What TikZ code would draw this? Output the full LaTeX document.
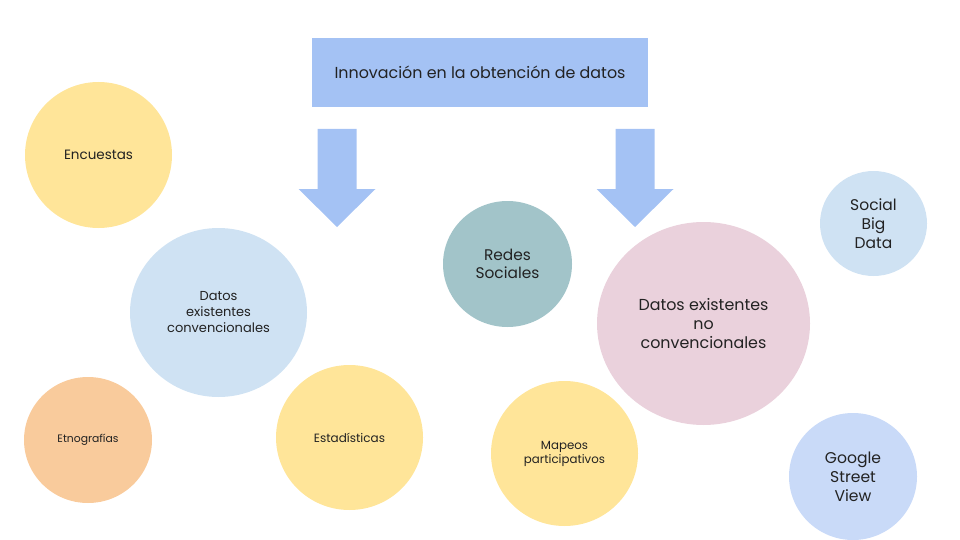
\documentclass[tikz,border=0pt]{standalone}
\usepackage{fontspec}
\setmainfont{Poppins}
\usetikzlibrary{shapes.geometric}
\definecolor{boxblue}{HTML}{A4C2F4}
\definecolor{sunyellow}{HTML}{FFE599}
\definecolor{paleblue}{HTML}{CFE2F3}
\definecolor{peach}{HTML}{F9CB9C}
\definecolor{sage}{HTML}{A2C4C9}
\definecolor{rose}{HTML}{EAD1DC}
\definecolor{cornflower}{HTML}{C9DAF8}
\definecolor{ink}{HTML}{222222}
\begin{document}
\begin{tikzpicture}[x=1pt,y=-1pt,
  bubble/.style={ellipse,inner sep=0pt,align=center,text=ink},
  downarrow/.style={fill=boxblue}]
\useasboundingbox (0,0) rectangle (960,540);

% heading box
\node[fill=boxblue,minimum width=336pt,minimum height=69pt,inner sep=0pt,
  text=ink,font=\fontsize{15.9}{18}\selectfont] (title) at (480,72.5)
  {Innovación en la obtención de datos};

% two block arrows under the heading
\foreach \cx/\nm in {337/left,635/right}{
  \fill[downarrow] (\cx-19.5,129) -- (\cx+19.5,129) -- (\cx+19.5,189)
    -- (\cx+38.5,189) -- (\cx,227) -- (\cx-38.5,189) -- (\cx-19.5,189) -- cycle;
}

% bubbles
\node[bubble,fill=sunyellow,minimum width=147pt,minimum height=146pt,
  font=\fontsize{13.5}{16}\selectfont] (enc) at (98.5,155) {Encuestas};
\node[bubble,fill=paleblue,minimum width=177pt,minimum height=169pt,
  font=\fontsize{13}{16}\selectfont] (conv) at (218.5,312.5)
  {Datos\\existentes\\convencionales};
\node[bubble,fill=peach,minimum width=128pt,minimum height=126pt,
  font=\fontsize{10.8}{13}\selectfont] (etno) at (88,440) {Etnografías};
\node[bubble,fill=sunyellow,minimum width=147pt,minimum height=145pt,
  font=\fontsize{12}{14}\selectfont] (est) at (349.5,437.5) {Estadísticas};
\node[bubble,fill=sage,minimum width=129pt,minimum height=126pt,
  font=\fontsize{15.4}{18}\selectfont] (redes) at (507.5,264) {Redes\\Sociales};
\node[bubble,fill=rose,minimum width=213pt,minimum height=203pt,
  font=\fontsize{15.9}{19}\selectfont] (noconv) at (703.5,323.5)
  {Datos existentes\\no\\convencionales};
\node[bubble,fill=sunyellow,minimum width=147pt,minimum height=145pt,
  font=\fontsize{11.8}{14}\selectfont] (mapeos) at (564.5,453.5)
  {Mapeos\\participativos};
\node[bubble,fill=paleblue,minimum width=107pt,minimum height=105pt,
  font=\fontsize{15.5}{19}\selectfont] (sbd) at (873.5,223.5)
  {Social\\Big\\Data};
\node[bubble,fill=cornflower,minimum width=128pt,minimum height=127pt,
  font=\fontsize{15.6}{19}\selectfont] (gsv) at (853,476.5)
  {Google\\Street\\View};
\end{tikzpicture}
\end{document}
